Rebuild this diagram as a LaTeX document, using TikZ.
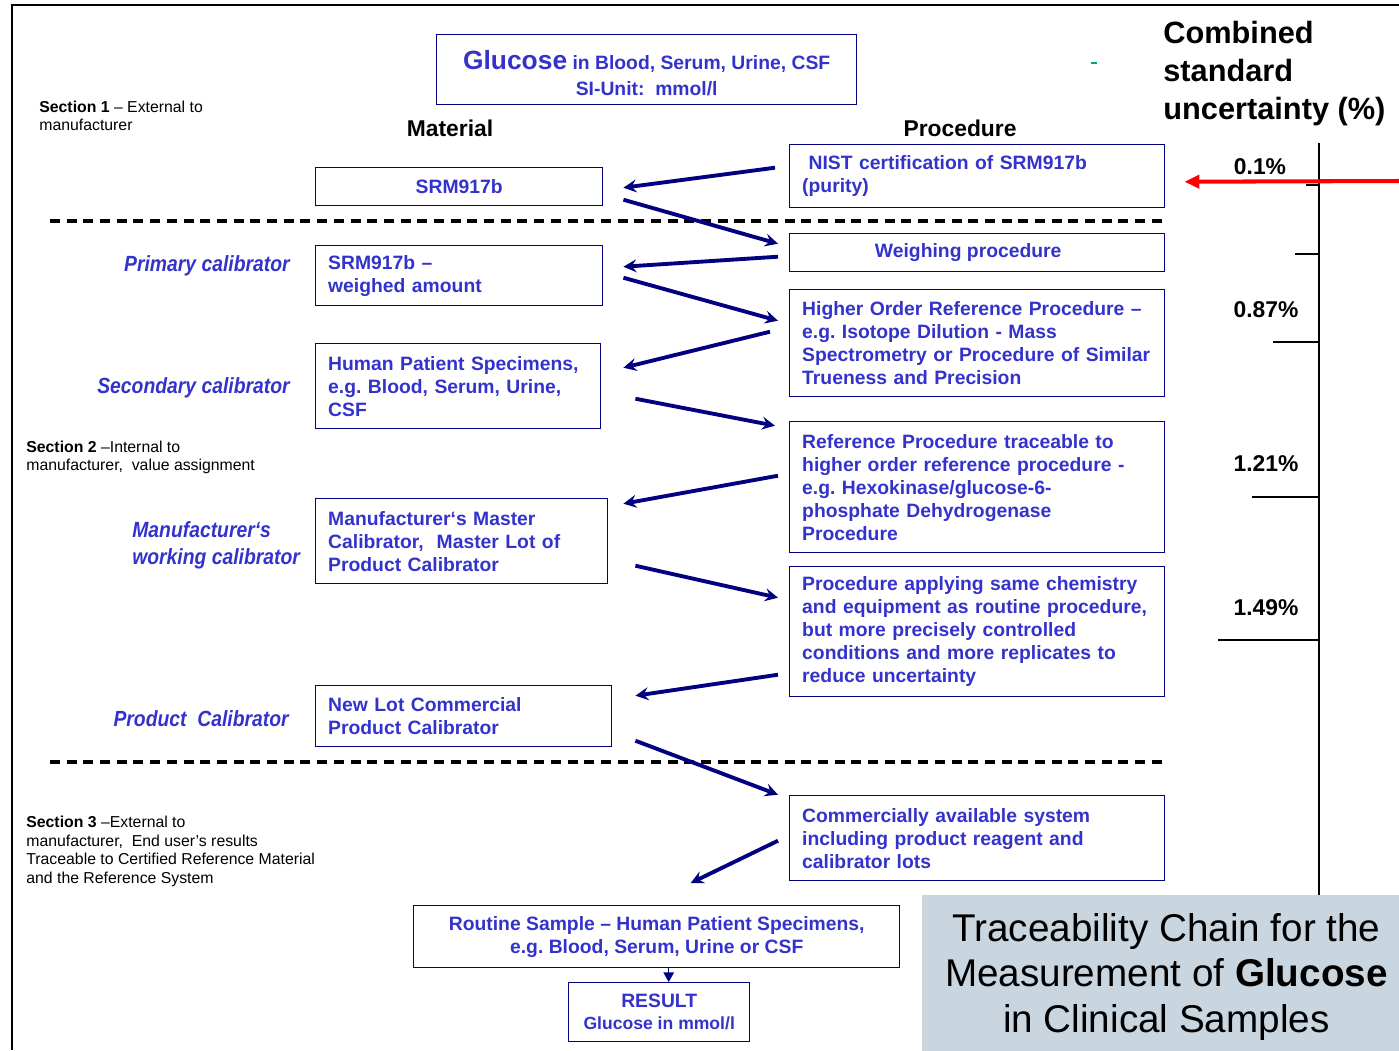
\documentclass[tikz,border=0pt]{standalone}
\usepackage{fontspec}
\setmainfont{Liberation Sans}
\newfontfamily\levelfont{Liberation Sans}[FakeStretch = 0.88]
\usepackage{tikz}
\usetikzlibrary{arrows.meta}
\frenchspacing
\hyphenpenalty=10000\relax

\definecolor{navy}{RGB}{0,0,128}
\definecolor{txtblue}{RGB}{51,51,204}
\definecolor{panelgrey}{RGB}{201,214,223}
\definecolor{dashgreen}{RGB}{0,170,120}

\tikzset{
	box/.style = {draw = navy, line width = 0.8pt, text = txtblue, anchor = north west,
		font = \fontsize{11}{13.1}\selectfont\bfseries, inner xsep = 2.5mm, inner ysep = 0pt},
	lbox/.style 2 args = {box, align = left, text width = #1, minimum height = #2},
	cbox/.style 2 args = {box, align = center, minimum width = #1, minimum height = #2},
	level/.style = {text = txtblue, font = \levelfont\fontsize{12.5}{15.5}\selectfont\bfseries\itshape, inner sep = 0pt},
	section/.style = {anchor = west, align = left, font = \fontsize{9}{10.5}\selectfont, inner sep = 0pt},
	head/.style = {font = \fontsize{13}{15}\selectfont\bfseries, inner sep = 0pt},
	flow/.style = {draw = navy, line width = 2.2pt, ->},
	sep/.style = {line width = 2pt, dash pattern = on 5.7pt off 3.8pt},
	axis/.style = {line width = 1.6pt}
}

\begin{document}
\begin{tikzpicture}[>=stealth, x = 0.2mm, y = -0.2mm]
	\useasboundingbox (0, 0) rectangle (1399, 1050);
	\draw[line width = 1.1pt] (12, 1050) -- (12, 5) -- (1399, 5);

	% headings
	\node[cbox = {84mm}{14mm}, font = \fontsize{11}{15}\selectfont\bfseries] (title) at (436, 34)
		{\rule{0pt}{15pt}{\fontsize{15}{17}\selectfont Glucose} in Blood, Serum, Urine, CSF\\SI-Unit:\ \ mmol/l};
	\draw[dashgreen, line width = 0.6pt] (1091, 63) -- (1097, 63);
	\node[anchor = west, align = left, inner sep = 0pt, font = \fontsize{17.5}{21.5}\selectfont\bfseries] (unc) at (1163, 73.5)
		{Combined\\standard\\uncertainty (\%)};
	\node[head] (material) at (450, 128) {Material};
	\node[head] (procedure) at (960, 128) {Procedure};

	% sections and levels
	\node[section] (sec1) at (39, 116) {\textbf{Section 1} -- External to\\manufacturer};
	\node[section] (sec2) at (26, 457.5) {\textbf{Section 2} --Internal to\\manufacturer,\ \ value assignment};
	\node[section] (sec3) at (26, 851.5) {\textbf{Section 3} --External to\\manufacturer,\ \ End user's results\\Traceable to Certified Reference Material\\and the Reference System};
	\node[level, anchor = east] (primary) at (290, 266) {Primary calibrator};
	\node[level, anchor = east] (secondary) at (290, 388) {Secondary calibrator};
	\node[level, anchor = west, align = left] (working) at (132, 545) {Manufacturer‘s\\working calibrator};
	\node[level, anchor = east] (product) at (289, 719) {Product\ \ Calibrator};

	% material column
	\node[cbox = {57.4mm}{7.6mm}] (srm) at (315, 167) {SRM917b};
	\node[lbox = {52.4mm}{12mm}] (wamt) at (315, 245) {SRM917b --\\weighed amount};
	\node[lbox = {52mm}{17mm}] (hps) at (315, 343) {Human Patient Specimens,\\e.g. Blood, Serum, Urine,\\CSF};
	\node[lbox = {53.4mm}{17mm}] (mmc) at (315, 498) {Manufacturer‘s Master\\Calibrator,\ \ Master Lot of\\Product Calibrator};
	\node[lbox = {54.2mm}{12.2mm}] (nlc) at (315, 685) {New Lot Commercial\\Product Calibrator};

	% procedure column
	\node[lbox = {70mm}{12.6mm}] (nist) at (789, 144) {\ NIST certification of SRM917b\\(purity)};
	\node[cbox = {75mm}{7.6mm}] (weigh) at (789, 233) {Weighing procedure\hspace*{3.6mm}};
	\node[lbox = {70mm}{21.4mm}] (hor) at (789, 289) {Higher Order Reference Procedure --\\e.g. Isotope Dilution - Mass\\Spectrometry or Procedure of Similar\\Trueness and Precision};
	\node[lbox = {70mm}{26.2mm}] (refp) at (789, 421) {Reference Procedure traceable to\\higher order reference procedure -\\e.g. Hexokinase/glucose-6-\\phosphate Dehydrogenase\\Procedure};
	\node[lbox = {70mm}{26mm}] (pac) at (789, 566) {Procedure applying same chemistry\\and equipment as routine procedure,\\but more precisely controlled\\conditions and more replicates to\\reduce uncertainty};
	\node[lbox = {70mm}{17mm}] (cas) at (789, 795) {Commercially available system\\including product reagent and\\calibrator lots};

	% end user
	\node[cbox = {97.2mm}{12.4mm}] (routine) at (413, 905) {Routine Sample -- Human Patient Specimens,\\e.g. Blood, Serum, Urine or CSF};
	\node[cbox = {36.2mm}{11.8mm}, font = \fontsize{10}{12.5}\selectfont\bfseries] (result) at (568, 982) {{\fontsize{11}{13}\selectfont RESULT}\\Glucose in mmol/l};

	% section borders
	\draw[sep] (50, 221) -- (1165, 221);
	\draw[sep] (50, 762) -- (1165, 762);

	% chain
	\draw[flow] ([shift = {(-14, -8.5)}]nist.west) -- ([shift = {(20, 1)}]srm.east);
	\draw[flow] ([shift = {(20, 13)}]srm.east) -- ([shift = {(-11, -9)}]weigh.west);
	\draw[flow] ([shift = {(-11, 4)}]weigh.west) -- ([shift = {(20, -9)}]wamt.east);
	\draw[flow] ([shift = {(20, 2)}]wamt.east) -- ([shift = {(-11, -22.5)}]hor.west);
	\draw[flow] ([shift = {(-19, -11.5)}]hor.west) -- ([shift = {(22, -18.5)}]hps.east);
	\draw[flow] ([shift = {(34, 12.5)}]hps.east) -- ([shift = {(-14, -61.5)}]refp.west);
	\draw[flow] ([shift = {(-11, -11.5)}]refp.west) -- ([shift = {(15, -37.5)}]mmc.east);
	\draw[flow] ([shift = {(27, 24.5)}]mmc.east) -- ([shift = {(-11, -34)}]pac.west);
	\draw[flow] ([shift = {(-11, 43)}]pac.west) -- ([shift = {(23, -20.5)}]nlc.east);
	\draw[flow] ([shift = {(23, 24.5)}]nlc.east) -- ([shift = {(-11, -43.5)}]cas.west);
	\draw[flow] ([shift = {(-11, 2.5)}]cas.west) -- ([shift = {(34, -22)}]routine.north);
	\coordinate (rs) at ([shift = {(12, 0)}]routine.south);
	\draw[navy, line width = 0.8pt, -{Triangle[length = 5.5pt, width = 6pt]}] (rs) -- (rs |- result.north);

	% uncertainty scale
	\draw[axis] (1319, 143) -- (1319, 895);
	\foreach \y/\l in {185/13, 254/24, 342/46, 497/67, 640/101}
		\draw[axis] (1319, \y) -- ++(-\l, 0);
	\node[head] (u1) at (1260, 167) {0.1\%};
	\node[head] (u2) at (1266, 310) {0.87\%};
	\node[head] (u3) at (1266, 464) {1.21\%};
	\node[head] (u4) at (1266, 608) {1.49\%};
	\coordinate (redtail) at (1399, 181);
	\draw[red, line width = 2.3pt, -{Triangle[length = 8.5pt, width = 7.5pt]}] (redtail) -- ([shift = {(19, 5.5)}]nist.east);

	\node[fill = panelgrey, anchor = north west, minimum width = 97.6mm, minimum height = 32.6mm, inner sep = 0pt,
		align = center, font = \fontsize{22}{26}\selectfont] (caption) at (922, 895)
		{Traceability Chain for the\\Measurement of \textbf{Glucose}\\in Clinical Samples};
\end{tikzpicture}
\end{document}
